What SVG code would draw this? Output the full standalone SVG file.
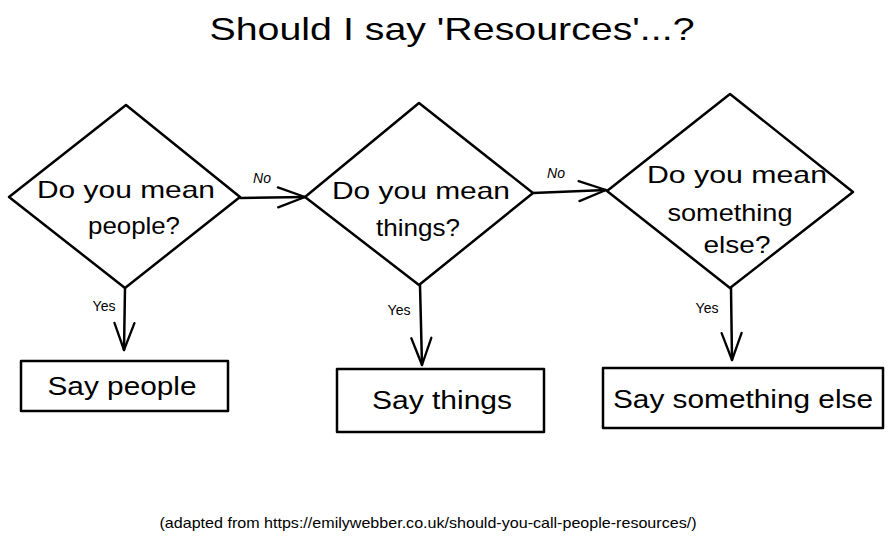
<svg xmlns="http://www.w3.org/2000/svg" width="891" height="543" viewBox="0 0 891 543">
<style>
.shape{fill:#fff;stroke:#000;stroke-width:2.5;stroke-linejoin:round}
.conn{fill:none;stroke:#000;stroke-width:2.5;stroke-linecap:round}
.hand{font-family:"Liberation Sans","DejaVu Sans",sans-serif;fill:#000;text-anchor:middle}
.q{font-size:24px}
.box{font-size:25px}
.lbl{font-size:14px}
.foot{font-family:"Liberation Sans",Arial,sans-serif;font-size:14.5px;fill:#000;text-anchor:middle}
</style>
<defs>
<marker id="ah" markerWidth="40" markerHeight="30" refX="30" refY="12" orient="auto" markerUnits="userSpaceOnUse" overflow="visible">
<path d="M3 2 L30 12 L3 22" fill="none" stroke="#000" stroke-width="2.3" stroke-linecap="round" stroke-linejoin="round"/>
</marker>
</defs>
<rect width="891" height="543" fill="#fff"/>
<text class="hand" x="452" y="40" font-size="32" textLength="485" lengthAdjust="spacingAndGlyphs">Should I say 'Resources'...?</text>

<g id="connectors">
<path class="conn" d="M240 198 L305 197" marker-end="url(#ah)"/>
<path class="conn" d="M533 193 L606 190" marker-end="url(#ah)"/>
<path class="conn" d="M125 288 L124 350" marker-end="url(#ah)"/>
<path class="conn" d="M420 285 L422 365" marker-end="url(#ah)"/>
<path class="conn" d="M731 288 L732 360" marker-end="url(#ah)"/>
<text class="hand lbl" x="262" y="183" font-style="italic">No</text>
<text class="hand lbl" x="556" y="178" font-style="italic">No</text>
<text class="hand lbl" x="104" y="311">Yes</text>
<text class="hand lbl" x="399" y="315">Yes</text>
<text class="hand lbl" x="707" y="313">Yes</text>
</g>

<g id="q1">
<path class="shape" d="M126 105 L240 197 L125 288 L9 197 Z"/>
<text class="hand q" x="126" y="198" textLength="178" lengthAdjust="spacingAndGlyphs">Do you mean</text>
<text class="hand q" x="134" y="234" textLength="92" lengthAdjust="spacingAndGlyphs">people?</text>
</g>

<g id="q2">
<path class="shape" d="M419 103 L533 193 L419 285 L305 197 Z"/>
<text class="hand q" x="421" y="199" textLength="178" lengthAdjust="spacingAndGlyphs">Do you mean</text>
<text class="hand q" x="418" y="236" textLength="84" lengthAdjust="spacingAndGlyphs">things?</text>
</g>

<g id="q3">
<path class="shape" d="M730 94 L853 192 L730 288 L607 191 Z"/>
<text class="hand q" x="737" y="183" textLength="180" lengthAdjust="spacingAndGlyphs">Do you mean</text>
<text class="hand q" x="730" y="221" textLength="125" lengthAdjust="spacingAndGlyphs">something</text>
<text class="hand q" x="737" y="253" textLength="67" lengthAdjust="spacingAndGlyphs">else?</text>
</g>

<g id="a1">
<rect class="shape" x="21" y="361" width="207" height="50"/>
<text class="hand box" x="122" y="395" textLength="149" lengthAdjust="spacingAndGlyphs">Say people</text>
</g>

<g id="a2">
<rect class="shape" x="337" y="369" width="207" height="63"/>
<text class="hand box" x="442" y="409" textLength="140" lengthAdjust="spacingAndGlyphs">Say things</text>
</g>

<g id="a3">
<rect class="shape" x="603" y="368" width="280" height="60"/>
<text class="hand box" x="743" y="408" textLength="260" lengthAdjust="spacingAndGlyphs">Say something else</text>
</g>

<text class="foot" x="428" y="528" textLength="537" lengthAdjust="spacingAndGlyphs">(adapted from https://emilywebber.co.uk/should-you-call-people-resources/)</text>
</svg>
